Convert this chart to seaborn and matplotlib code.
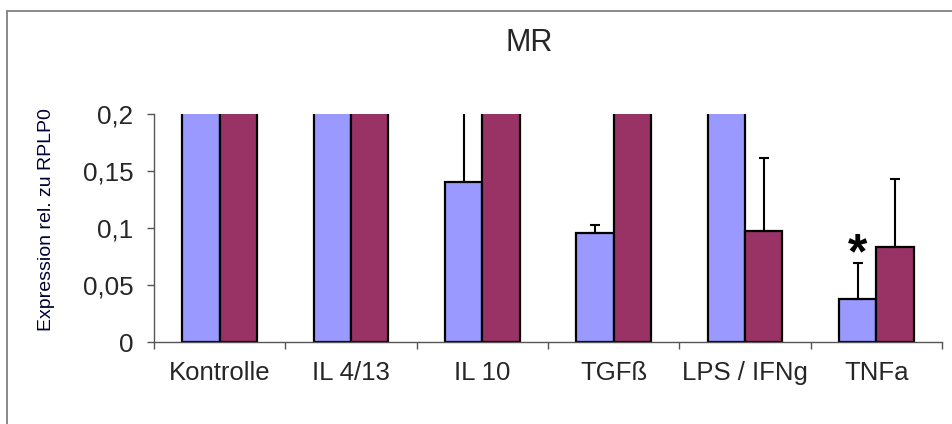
import numpy as np
import pandas as pd
import seaborn as sns
import matplotlib.pyplot as plt
from matplotlib.lines import Line2D
from matplotlib.ticker import FixedLocator, FuncFormatter

# Treatment groups on the x axis
categories = ["Kontrolle", "IL 4/13", "IL 10", "TGFß", "LPS / IFNg", "TNFa"]
series_names = ["Serie 1", "Serie 2"]

# Mean expression relative to RPLP0 (values above 0.2 run off the axis)
series1_values = [0.62, 0.48, 0.140, 0.096, 0.45, 0.038]
series2_values = [0.55, 0.41, 0.36, 0.30, 0.097, 0.083]

# Upper error (standard deviation)
series1_errors = [0.10, 0.08, 0.12, 0.007, 0.09, 0.031]
series2_errors = [0.09, 0.07, 0.08, 0.06, 0.064, 0.060]

y_ticks = [0, 0.05, 0.1, 0.15, 0.2]
significant = [(0, 5)]  # (series index, category index) marked with *

colors = ["#9999FF", "#993366"]

df = pd.DataFrame({
    "Behandlung": categories * 2,
    "Serie": [series_names[0]] * len(categories) + [series_names[1]] * len(categories),
    "Expression": series1_values + series2_values,
})
errors = [series1_errors, series2_errors]
values = [series1_values, series2_values]

sns.set_style("white")
plt.rcParams["font.family"] = ["Liberation Sans", "DejaVu Sans"]

W, H = 953, 424
fig = plt.figure(figsize=(W / 100, H / 100), dpi=100)
ax = fig.add_axes([154 / W, 1 - 342 / H, (942 - 154) / W, (342 - 114) / H])

sns.barplot(
    data=df, x="Behandlung", y="Expression", hue="Serie",
    order=categories, hue_order=series_names, palette=colors,
    errorbar=None, width=0.57, gap=0, saturation=1,
    edgecolor="black", linewidth=1.6, legend=False, ax=ax,
)
bar_containers = list(ax.containers)

# One-sided error bars centred on each bar
for s, container in enumerate(bar_containers):
    for c, patch in enumerate(container.patches):
        xc = patch.get_x() + patch.get_width() / 2
        ax.errorbar(xc, values[s][c], yerr=[[0], [errors[s][c]]],
                    fmt="none", ecolor="black", elinewidth=1.5,
                    capsize=3.3, capthick=1.5, zorder=1)

for s, c in significant:
    patch = bar_containers[s].patches[c]
    xc = patch.get_x() + patch.get_width() / 2
    ax.text(xc, values[s][c] + errors[s][c] - 0.0045, "*", ha="center",
            va="baseline", fontsize=36, fontweight="bold", color="black")

ax.set_ylim(0, 0.2)
ax.set_xlim(-0.5, len(categories) - 0.5)
ax.yaxis.set_major_locator(FixedLocator(y_ticks))
ax.yaxis.set_major_formatter(FuncFormatter(lambda v, p: f"{v:g}".replace(".", ",")))
ax.xaxis.set_minor_locator(FixedLocator(np.arange(-0.5, len(categories), 1.0)))

for side in ("top", "right"):
    ax.spines[side].set_visible(False)
for side in ("left", "bottom"):
    ax.spines[side].set_color("#555555")
    ax.spines[side].set_linewidth(1.0)

ax.tick_params(axis="y", which="major", direction="out", length=5, width=1.0,
               color="#555555", left=True, pad=10, labelsize=18.7)
ax.tick_params(axis="x", which="major", length=0, pad=14, labelsize=18.5)
ax.tick_params(axis="x", which="minor", direction="out", length=5, width=1.0,
               color="#555555", bottom=True)
ax.set_xlabel("")
ax.set_ylabel("")

fig.text(47 / W, 1 - 220 / H, "Expression rel. zu RPLP0", rotation=90,
         ha="center", va="center", fontsize=14, color="#000033")
fig.text(529.5 / W, 1 - 43 / H, "MR", ha="center", va="center", fontsize=22)

# Chart frame along the top and left edges
fig.add_artist(Line2D([7 / W, 1], [1 - 11 / H, 1 - 11 / H], color="#808080", lw=1.3))
fig.add_artist(Line2D([7 / W, 7 / W], [0, 1 - 11 / H], color="#808080", lw=1.3))

fig.savefig("out.png", dpi=100)
